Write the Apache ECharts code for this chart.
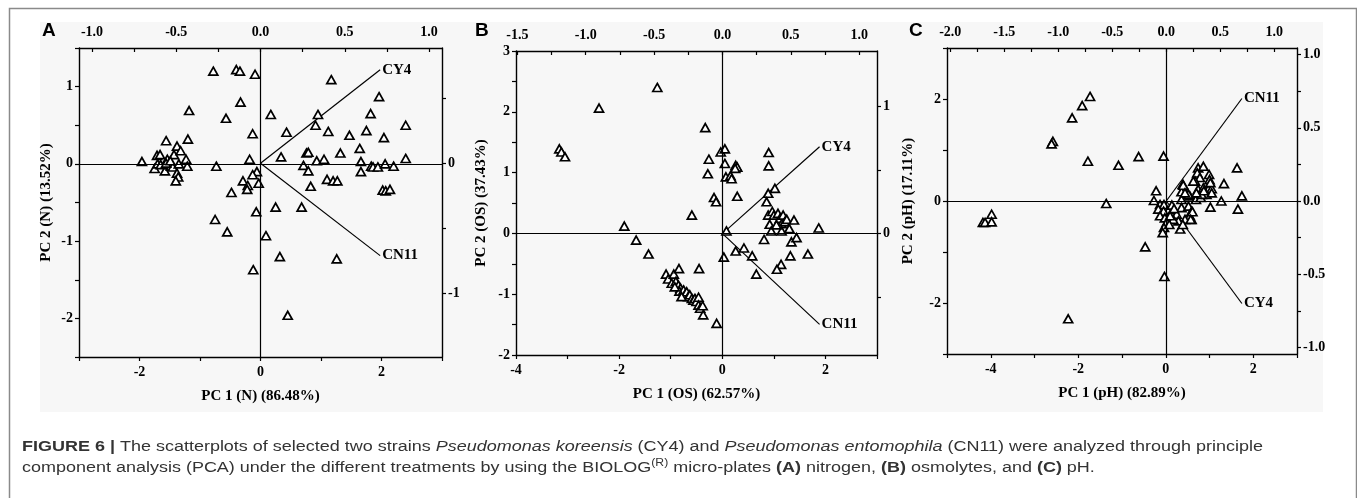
<!DOCTYPE html>
<html>
<head>
<meta charset="utf-8">
<script src="https://cdn.jsdelivr.net/npm/echarts@6.0.0/dist/echarts.min.js"></script>
<style>
  html, body { margin: 0; padding: 0; background: #fff; }
  #main { width: 1357px; height: 498px; }
</style>
</head>
<body>
<div id="main"></div>
<script>
// 散点数据 (PC1, PC2)
const ptsA = [
  [-1.96,0.03],[-1.75,-0.06],[-1.71,0.11],[-1.66,0.12],[-1.70,0.0],[-1.65,-0.01],[-1.58,-0.09],[-1.56,0.30],[-1.54,0.06],[-1.52,-0.01],
  [-1.48,-0.03],[-1.45,-0.04],[-1.43,0.12],[-1.38,0.23],[-1.38,-0.12],[-1.36,-0.17],[-1.40,-0.22],[-1.35,0.0],[-1.32,0.17],[-1.23,0.06],
  [-1.21,-0.03],[-1.20,0.32],[-1.18,0.69],[-1.56,0.01],[-1.49,0.04],
  [-0.73,-0.03],[-0.78,1.20],[-0.40,1.22],[-0.34,1.20],[-0.09,1.16],[-0.33,0.80],[-0.57,0.59],[-0.13,0.39],[-0.18,0.06],[-0.06,-0.10],
  [-0.13,-0.14],[-0.29,-0.22],[-0.21,-0.28],[-0.22,-0.33],[-0.03,-0.25],[-0.48,-0.37],
  [0.17,0.64],[0.43,0.41],[0.34,0.09],[0.95,0.64],[0.91,0.50],[1.12,0.42],[1.17,1.09],[0.76,0.14],[0.79,0.15],[0.71,-0.02],
  [0.79,-0.09],[0.93,0.04],[1.05,0.06],[1.32,0.14],[1.47,0.37],[1.64,0.20],[1.66,0.03],[1.66,-0.10],[1.75,0.43],[1.82,0.65],
  [1.83,-0.03],[1.86,-0.04],[1.94,-0.04],[1.96,0.87],[2.04,0.34],[2.06,0.0],[2.20,-0.03],[2.40,0.50],[2.40,0.07],[1.10,-0.20],
  [1.20,-0.22],[1.27,-0.22],[0.83,-0.29],[2.02,-0.34],[2.07,-0.35],[2.14,-0.33],
  [0.25,-0.56],[0.68,-0.56],[-0.07,-0.62],[-0.75,-0.72],[-0.55,-0.88],[0.09,-0.93],[0.32,-1.20],[1.26,-1.23],[-0.12,-1.37],[0.45,-1.96]
]
const ptsB = [
  [-1.26,2.40],[-2.39,2.06],[-3.16,1.39],[-3.12,1.34],[-3.05,1.26],[-0.33,1.74],[-0.26,1.22],[-0.28,0.98],[-0.03,1.34],[0.05,1.39],
  [0.05,1.15],[0.07,0.93],[0.16,0.95],[0.18,0.90],[0.26,1.12],[0.29,1.09],[0.25,1.07],[0.90,1.33],[0.90,1.11],[1.02,0.74],
  [0.89,0.66],[-0.16,0.59],[0.29,0.61],[-0.12,0.52],[-0.59,0.30],[-1.90,0.12],[-1.67,-0.11],[-1.43,-0.34],[0.08,0.04],[0.03,-0.39],
  [0.26,-0.29],[0.42,-0.24],[0.58,-0.37],[0.66,-0.67],[0.81,-0.10],[0.86,0.52],[0.89,0.30],[0.97,0.36],[0.92,0.15],[0.95,0.04],
  [1.00,0.30],[1.08,0.33],[1.12,0.25],[1.15,0.16],[1.18,0.30],[1.21,0.19],[1.25,0.23],[1.15,0.04],[1.30,0.08],[1.05,0.14],
  [1.39,0.22],[1.34,-0.14],[1.44,-0.07],[1.32,-0.37],[1.66,-0.34],[1.87,0.09],[1.14,-0.51],[1.06,-0.59],[-0.11,-1.48],
  [-1.09,-0.67],[-1.05,-0.75],[-0.94,-0.67],[-0.84,-0.58],[-0.98,-0.82],[-0.90,-0.79],[-0.85,-0.85],[-0.81,-0.90],[-0.83,-0.95],[-0.75,-0.93],
  [-0.72,-1.00],[-0.69,-0.96],[-0.66,-1.04],[-0.63,-1.01],[-0.59,-1.07],[-0.56,-1.10],[-0.53,-1.07],[-0.50,-1.12],[-0.46,-1.05],[-0.46,-1.18],
  [-0.43,-1.23],[-0.38,-1.19],[-0.37,-1.34],[-0.45,-0.58],[-0.92,-0.88],[-0.79,-1.04]
]
const ptsC = [
  [-1.73,2.05],[-1.91,1.87],[-2.14,1.63],[-2.58,1.17],[-2.61,1.12],[-1.78,0.78],[-1.08,0.70],[-0.62,0.87],[-0.05,0.88],[-3.98,-0.26],
  [-4.18,-0.42],[-4.13,-0.42],[-3.98,-0.41],[-1.36,-0.05],[-2.23,-2.31],[-0.47,-0.90],[-0.03,-1.48],
  [-0.22,0.20],[-0.27,0.01],[0.39,0.33],[0.74,0.65],[0.86,0.68],[0.72,0.55],[0.78,0.46],[0.67,0.39],[0.99,0.52],
  [1.00,0.42],[1.63,0.65],[1.33,0.34],[0.74,0.23],[0.86,0.26],[0.97,0.23],[1.05,0.24],[0.36,0.18],[0.48,0.13],[0.55,0.10],
  [0.69,0.03],[0.80,0.07],[0.93,0.13],[1.05,0.16],[0.36,0.03],[1.27,0.0],[1.74,0.10],[1.02,-0.12],[1.65,-0.16],[-0.13,-0.07],
  [-0.04,-0.07],[-0.17,-0.16],[-0.05,-0.20],[-0.13,-0.29],[-0.02,-0.33],[0.17,-0.16],[0.25,-0.26],[0.36,-0.13],[0.52,-0.10],[0.59,-0.20],
  [0.55,-0.29],[0.44,-0.36],[0.29,-0.39],[0.17,-0.36],[0.10,-0.29],[0.02,-0.42],[-0.04,-0.52],[-0.07,-0.62],[0.33,-0.55],[0.08,-0.46],
  [0.39,-0.46],[0.59,-0.36],[0.82,0.13],[0.87,0.20],[1.02,0.36],[0.63,0.39],[0.40,0.31],[0.52,0.13],[0.70,0.16],[0.44,0.16],
  [0.14,-0.08],[0.19,-0.15],[0.61,-0.21],[0.57,-0.36]
]

// 载荷向量 (顶轴/右轴)
const vecNamesA = ['CY4', 'CN11']
const vecA = [[0.71, 0.72], [0.71, -0.71]]
const vecNamesB = ['CY4', 'CN11']
const vecB = [[0.71, 0.68], [0.71, -0.71]]
const vecNamesC = ['CN11', 'CY4']
const vecC = [[0.70, 0.70], [0.70, -0.70]]

// 轴标题
const xNames = ['PC 1 (N) (86.48%)', 'PC 1 (OS) (62.57%)', 'PC 1 (pH) (82.89%)']
const yNames = ['PC 2 (N) (13.52%)', 'PC 2 (OS) (37.43%)', 'PC 2 (pH) (17.11%)']
const panelLetters = ['A', 'B', 'C']

// 刻度 / 标签
const bottomTicks = [[-3,-2,-1,0,1,2,3], [-4,-3,-2,-1,0,1,2,3], [-5,-4,-3,-2,-1,0,1,2,3]]
const bottomLabels = [[-2,0,2], [-4,-2,0,2], [-4,-2,0,2]]
const leftTicks = [[-2.5,-2,-1.5,-1,-0.5,0,0.5,1,1.5], [-2,-1.5,-1,-0.5,0,0.5,1,1.5,2,2.5,3], [-3,-2,-1,0,1,2,3]]
const leftLabels = [[-2,-1,0,1], [-2,-1,0,1,2,3], [-2,0,2]]
const topTicks = [
  [-1,-0.75,-0.5,-0.25,0,0.25,0.5,0.75,1],
  [-1.5,-1.25,-1,-0.75,-0.5,-0.25,0,0.25,0.5,0.75,1],
  [-2,-1.75,-1.5,-1.25,-1,-0.75,-0.5,-0.25,0,0.25,0.5,0.75,1]
]
const topLabels = [[-1,-0.5,0,0.5,1], [-1.5,-1,-0.5,0,0.5,1], [-2,-1.5,-1,-0.5,0,0.5,1]]
const rightTicks = [[-1,-0.5,0,0.5], [-0.5,0,0.5,1], [-1,-0.75,-0.5,-0.25,0,0.25,0.5,0.75,1]]
const rightLabels = [[-1,0], [0,1], [-1,-0.5,0,0.5,1]]

const pts = [ptsA, ptsB, ptsC]
const vecs = [vecA, vecB, vecC]
const vecNames = [vecNamesA, vecNamesB, vecNamesC]

// 布局
const grids = [
  { left: 79, top: 48, width: 363, height: 309 },
  { left: 516, top: 51, width: 361, height: 304 },
  { left: 947, top: 48, width: 350, height: 306 }
]
const ranges = [
  { x: [-3, 3], y: [-2.5, 1.5], tx: [-1.077, 1.077], ry: [-1.49, 0.887] },
  { x: [-4, 3], y: [-2, 3], tx: [-1.51, 1.13], ry: [-0.95, 1.43] },
  { x: [-5, 3], y: [-3, 3], tx: [-2.03, 1.21], ry: [-1.045, 1.045] }
]
const yNameGap = [25, 27, 31]
const letterPos = [[42, 21], [475, 21], [909, 21]]

const serif = 'Liberation Serif'
const lblStyle = { fontFamily: serif, fontWeight: 'bold', fontSize: 14, color: '#000' }

const myChart = echarts.init(document.querySelector('#main'), null, { renderer: 'canvas' })

const xAxis = []
const yAxis = []
const series = []

grids.forEach((g, i) => {
  const r = ranges[i]
  xAxis.push({
    type: 'value', gridIndex: i, position: 'bottom', min: r.x[0], max: r.x[1],
    name: xNames[i], nameLocation: 'middle', nameGap: 32,
    nameTextStyle: { fontFamily: serif, fontWeight: 'bold', fontSize: 15, color: '#000' },
    axisLine: { onZero: false, lineStyle: { color: '#000', width: 1.4 } },
    axisTick: { length: 4, lineStyle: { color: '#000', width: 1.2 }, customValues: bottomTicks[i] },
    axisLabel: Object.assign({ margin: 8, customValues: bottomLabels[i], formatter: v => String(v) }, lblStyle),
    splitLine: { show: false }
  })
  xAxis.push({
    type: 'value', gridIndex: i, position: 'top', min: r.tx[0], max: r.tx[1],
    axisLine: { onZero: false, lineStyle: { color: '#000', width: 1.4 } },
    axisTick: { inside: true, length: 4, lineStyle: { color: '#000', width: 1.2 }, customValues: topTicks[i] },
    axisLabel: Object.assign({ margin: 9, customValues: topLabels[i], formatter: v => v.toFixed(1) }, lblStyle),
    splitLine: { show: false }
  })
  yAxis.push({
    type: 'value', gridIndex: i, position: 'left', min: r.y[0], max: r.y[1],
    name: yNames[i], nameLocation: 'middle', nameGap: yNameGap[i],
    nameTextStyle: { fontFamily: serif, fontWeight: 'bold', fontSize: 15, color: '#000' },
    axisLine: { onZero: false, lineStyle: { color: '#000', width: 1.4 } },
    axisTick: { length: 4, lineStyle: { color: '#000', width: 1.2 }, customValues: leftTicks[i] },
    axisLabel: Object.assign({ margin: 6, customValues: leftLabels[i], formatter: v => String(v) }, lblStyle),
    splitLine: { show: false }
  })
  yAxis.push({
    type: 'value', gridIndex: i, position: 'right', min: r.ry[0], max: r.ry[1],
    axisLine: { onZero: false, lineStyle: { color: '#000', width: 1.4 } },
    axisTick: { length: 4, lineStyle: { color: '#000', width: 1.2 }, customValues: rightTicks[i] },
    axisLabel: Object.assign({ margin: 6, customValues: rightLabels[i],
      formatter: v => (i === 2 ? v.toFixed(1) : String(v)) }, lblStyle),
    splitLine: { show: false }
  })

  // 散点
  series.push({
    type: 'scatter', xAxisIndex: 2 * i, yAxisIndex: 2 * i,
    data: pts[i],
    symbol: 'triangle', symbolSize: [9, 8],
    itemStyle: { color: '#fff', borderColor: '#000', borderWidth: 1.7, opacity: 1 },
    z: 4,
    markLine: {
      silent: true, symbol: ['none', 'none'], label: { show: false },
      lineStyle: { color: '#000', type: 'solid', width: 1.2 },
      data: [{ xAxis: 0 }, { yAxis: 0 }]
    }
  })

  // 向量
  vecs[i].forEach((v, k) => {
    series.push({
      type: 'line', name: vecNames[i][k], xAxisIndex: 2 * i + 1, yAxisIndex: 2 * i + 1,
      data: [[0, 0], v],
      showSymbol: false, symbol: 'none',
      lineStyle: { color: '#000', width: 1.2 },
      endLabel: { show: true, formatter: vecNames[i][k], distance: 2, fontFamily: serif, fontWeight: 'bold', fontSize: 15, color: '#000' },
      z: 3
    })
  })
})

const graphic = [
  // 图片灰色底
  { type: 'rect', left: 40, top: 22, z: -10, silent: true, shape: { width: 1283, height: 390 }, style: { fill: '#f7f7f7' } },
  // 外框
  { type: 'rect', left: 7, top: 6, z: -9, silent: true, shape: { width: 1347, height: 520 }, style: { fill: 'none', stroke: '#8a8a8a', lineWidth: 1.5 } }
]
panelLetters.forEach((t, i) => {
  graphic.push({ type: 'text', left: letterPos[i][0], top: letterPos[i][1],
    style: { text: t, font: 'bold 19px "Liberation Sans"', fill: '#000' } })
})
// 图注 (横向略拉伸)
graphic.push({
  type: 'text', x: 22, y: 439, scaleX: 1.16,
  style: {
    text: '{b|FIGURE 6 |} The scatterplots of selected two strains {i|Pseudomonas koreensis} (CY4) and {i|Pseudomonas entomophila} (CN11) were analyzed through principle',
    font: '15.5px "Liberation Sans"', fill: '#333',
    rich: {
      b: { fontWeight: 'bold', fontSize: 15.5, fontFamily: 'Liberation Sans', fill: '#333' },
      i: { fontStyle: 'italic', fontSize: 15.5, fontFamily: 'Liberation Sans', fill: '#333' }
    }
  }
})
graphic.push({
  type: 'text', x: 22, y: 458, scaleX: 1.16,
  style: {
    text: 'component analysis (PCA) under the different treatments by using the BIOLOG{sup|(R)} micro-plates {b|(A)} nitrogen, {b|(B)} osmolytes, and {b|(C)} pH.',
    font: '15.5px "Liberation Sans"', fill: '#333',
    rich: {
      b: { fontWeight: 'bold', fontSize: 15.5, fontFamily: 'Liberation Sans', fill: '#333', lineHeight: 19 },
      sup: { fontSize: 10.5, fontFamily: 'Liberation Sans', fill: '#333', verticalAlign: 'top', lineHeight: 19 }
    }
  }
})

const option = {
  animation: false,
  textStyle: { fontFamily: serif },
  grid: grids,
  xAxis: xAxis,
  yAxis: yAxis,
  series: series,
  graphic: graphic
}

myChart.setOption(option)
</script>
</body>
</html>
